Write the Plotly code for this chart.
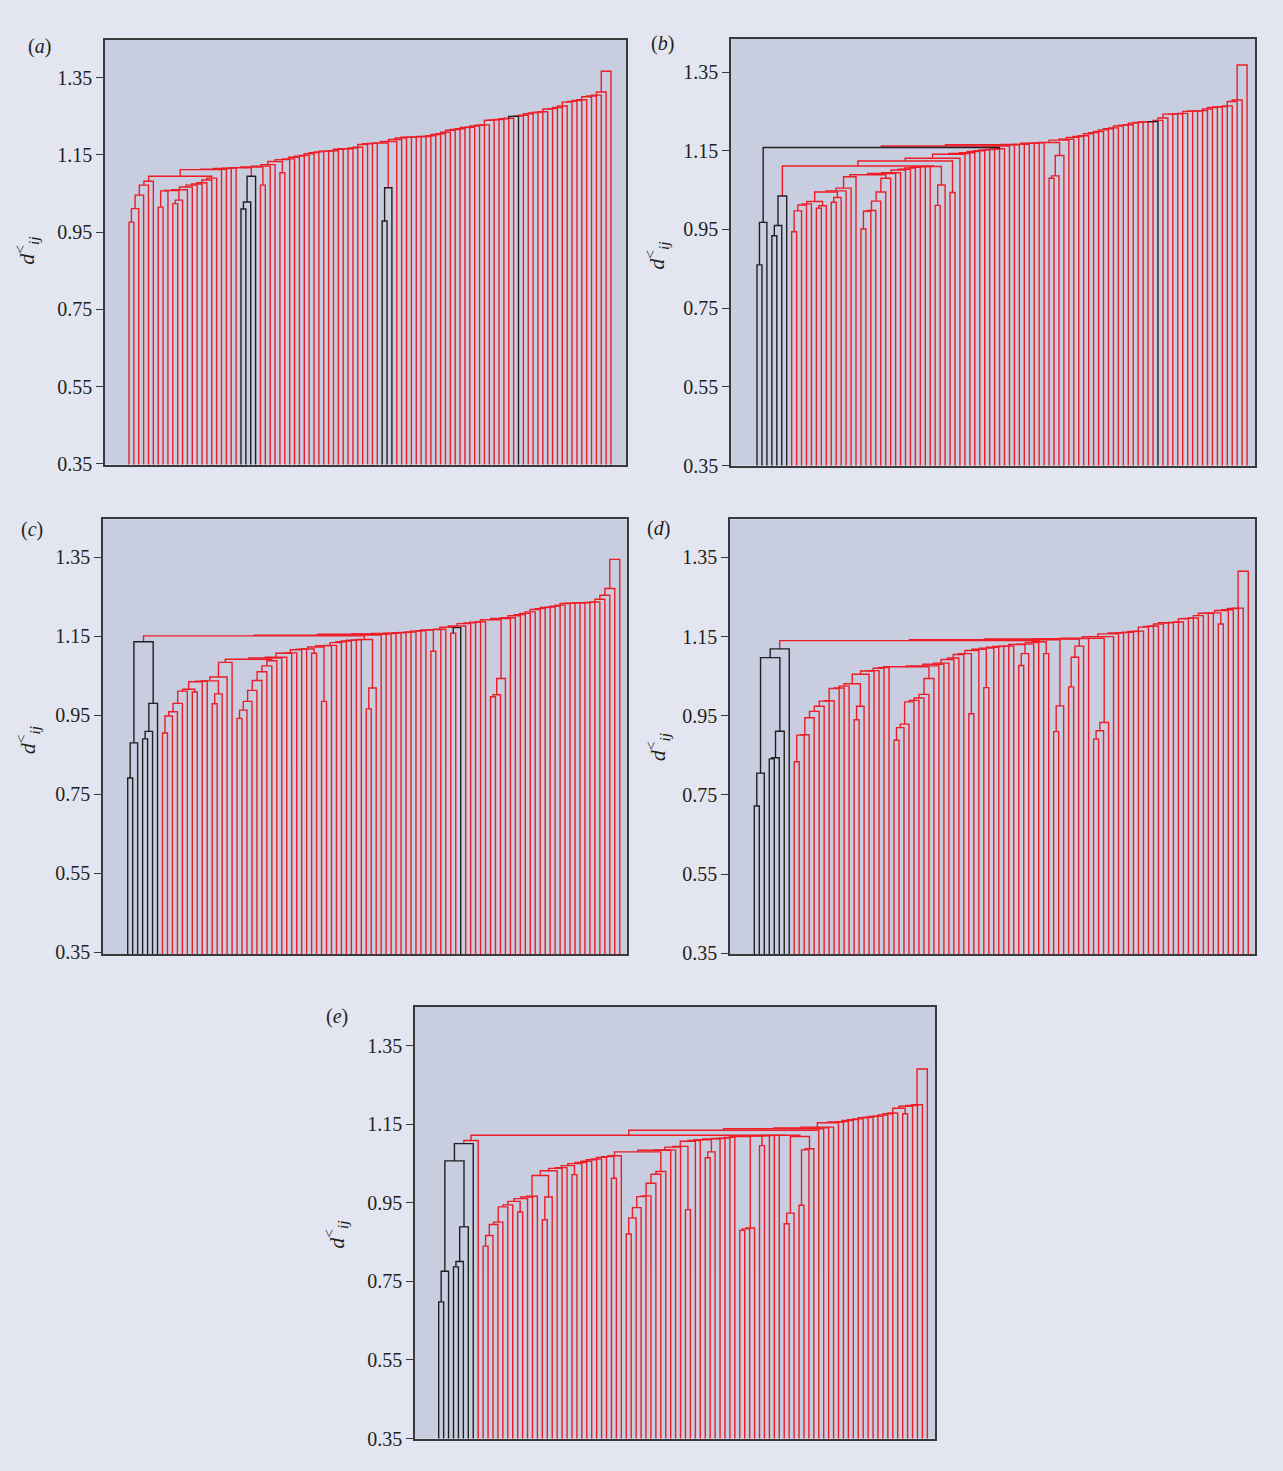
import plotly.graph_objects as go

# ---------------- data (heights) ----------------
# Each list gives, in leaf order, the merge height between leaf k-1 and leaf k (k = 1..99)
GAPS_A = [0.976, 1.011, 1.046, 1.072, 1.082, 1.095, 1.015, 1.057, 1.058, 1.024,
          1.033, 1.060, 1.067, 1.072, 1.075, 1.078, 1.085, 1.090, 1.112, 1.113,
          1.115, 1.116, 1.117, 1.010, 1.028, 1.095, 1.119, 1.072, 1.121, 1.125,
          1.133, 1.104, 1.138, 1.140, 1.144, 1.147, 1.149, 1.153, 1.156, 1.158,
          1.160, 1.160, 1.161, 1.165, 1.166, 1.166, 1.168, 1.170, 1.177, 1.179,
          1.180, 1.181, 0.979, 1.065, 1.185, 1.190, 1.194, 1.196, 1.196, 1.197,
          1.198, 1.198, 1.200, 1.203, 1.205, 1.209, 1.214, 1.216, 1.218, 1.221,
          1.222, 1.225, 1.227, 1.228, 1.240, 1.241, 1.242, 1.244, 1.245, 1.250,
          1.251, 1.253, 1.257, 1.259, 1.261, 1.262, 1.269, 1.270, 1.273, 1.277,
          1.287, 1.289, 1.291, 1.293, 1.301, 1.303, 1.305, 1.313, 1.367]
BLACK_A = [24, 25, 26, 53, 54, 80]

GAPS_B = [0.860, 0.968, 1.158, 0.934, 0.960, 1.035, 1.111, 0.944, 0.997, 1.012,
          1.015, 1.021, 1.004, 1.010, 1.045, 1.019, 1.031, 1.048, 1.055, 1.084,
          1.089, 0.951, 0.996, 0.998, 1.022, 1.045, 1.080, 1.092, 1.094, 1.101,
          1.103, 1.106, 1.108, 1.109, 1.1095, 1.110, 1.011, 1.063, 1.124, 1.044,
          1.131, 1.141, 1.143, 1.145, 1.148, 1.150, 1.152, 1.153, 1.154, 1.155,
          1.162, 1.165, 1.165, 1.166, 1.166, 1.169, 1.169, 1.170, 1.171, 1.080,
          1.086, 1.138, 1.177, 1.179, 1.184, 1.186, 1.188, 1.193, 1.196, 1.199,
          1.203, 1.206, 1.208, 1.213, 1.215, 1.216, 1.220, 1.222, 1.223, 1.2235,
          1.224, 1.227, 1.233, 1.243, 1.243, 1.244, 1.245, 1.250, 1.251, 1.251,
          1.252, 1.256, 1.260, 1.261, 1.262, 1.264, 1.275, 1.279, 1.368]
BLACK_B = [1, 2, 3, 4, 5, 6, 81]

GAPS_C = [0.791, 0.880, 1.136, 0.890, 0.909, 0.980, 1.151, 0.905, 0.948, 0.959,
          0.980, 1.011, 1.016, 1.009, 1.035, 1.036, 1.037, 0.979, 1.004, 1.047,
          1.084, 1.092, 0.942, 0.963, 0.985, 1.013, 1.038, 1.060, 1.075, 1.088,
          1.095, 1.097, 1.107, 1.108, 1.116, 1.117, 1.118, 1.107, 1.123, 0.985,
          1.126, 1.127, 1.134, 1.136, 1.138, 1.140, 1.141, 1.142, 0.966, 1.019,
          1.153, 1.155, 1.156, 1.157, 1.158, 1.159, 1.160, 1.161, 1.163, 1.164,
          1.166, 1.112, 1.167, 1.168, 1.173, 1.158, 1.172, 1.176, 1.182, 1.184,
          1.186, 1.187, 1.192, 0.997, 1.002, 1.043, 1.195, 1.197, 1.202, 1.205,
          1.208, 1.212, 1.218, 1.220, 1.223, 1.224, 1.226, 1.229, 1.233, 1.234,
          1.234, 1.235, 1.235, 1.236, 1.237, 1.244, 1.254, 1.271, 1.345]
BLACK_C = [1, 2, 3, 4, 5, 6, 67]

GAPS_D = [0.722, 0.805, 1.097, 0.841, 0.844, 0.911, 1.119, 1.140, 0.834, 0.901,
          0.902, 0.945, 0.961, 0.974, 0.987, 0.988, 1.019, 1.020, 1.025, 1.031,
          0.940, 0.974, 1.055, 1.063, 1.064, 1.070, 1.072, 1.074, 0.888, 0.920,
          0.929, 0.985, 0.989, 0.995, 1.004, 1.044, 1.076, 1.080, 1.083, 1.092,
          1.096, 1.105, 1.107, 0.955, 1.115, 1.118, 1.021, 1.121, 1.123, 1.125,
          1.1255, 1.126, 1.130, 1.077, 1.107, 1.131, 1.135, 1.137, 1.107, 1.142,
          0.910, 0.975, 1.144, 1.023, 1.098, 1.126, 1.145, 1.146, 0.891, 0.912,
          0.933, 1.150, 1.157, 1.159, 1.160, 1.161, 1.163, 1.164, 1.174, 1.176,
          1.177, 1.182, 1.185, 1.185, 1.186, 1.187, 1.195, 1.196, 1.197, 1.203,
          1.209, 1.209, 1.210, 1.182, 1.216, 1.218, 1.221, 1.222, 1.315]
BLACK_D = [1, 2, 3, 4, 5, 6, 7]

GAPS_E = [0.698, 0.776, 1.057, 0.787, 0.801, 0.889, 1.101, 1.109, 1.1225, 0.840,
          0.867, 0.895, 0.901, 0.940, 0.945, 0.954, 0.927, 0.961, 0.965, 0.967,
          1.020, 0.907, 0.965, 1.032, 1.038, 1.040, 1.045, 1.022, 1.050, 1.053,
          1.056, 1.060, 1.062, 1.066, 1.068, 1.013, 1.070, 1.080, 0.871, 0.912,
          0.938, 0.966, 0.968, 1.000, 1.023, 1.030, 1.084, 1.085, 1.092, 1.094,
          0.933, 1.107, 1.109, 1.111, 1.065, 1.080, 1.113, 1.114, 1.115, 1.117,
          1.119, 0.880, 0.884, 0.886, 1.120, 1.096, 1.121, 1.1215, 1.122, 1.1222,
          0.897, 0.924, 1.119, 0.944, 1.085, 1.088, 1.135, 1.139, 1.141, 1.143,
          1.154, 1.156, 1.157, 1.160, 1.162, 1.164, 1.167, 1.168, 1.170, 1.171,
          1.174, 1.177, 1.179, 1.191, 1.177, 1.196, 1.198, 1.200, 1.291]
BLACK_E = [1, 2, 3, 4, 5, 6, 7]

TICK_VALS = [0.35, 0.55, 0.75, 0.95, 1.15, 1.35]
TICK_TEXT = ["0.35", "0.55", "0.75", "0.95", "1.15", "1.35"]
PANEL_NAMES = ["a", "b", "c", "d", "e"]

# ---------------- styling / layout ----------------
W, H = 1283, 1471
YS = 1461.5          # effective rendered height used for vertical placement
RED = "#EE1D25"
BLACK = "#231F20"
PAGE_BG = "#E3E6F1"
PLOT_BG = "#C8CDE0"
FONT = "Liberation Serif"

panels = [
    dict(gaps=GAPS_A, black=BLACK_A, box=(105, 626, 40, 465), xr=(-4.93, 102.08), yr=(0.348, 1.448),
         lab=(39, 47), ylab=(27, 251)),
    dict(gaps=GAPS_B, black=BLACK_B, box=(731, 1255, 39, 466), xr=(-5.25, 100.6), yr=(0.35, 1.434),
         lab=(662, 44), ylab=(657, 256)),
    dict(gaps=GAPS_C, black=BLACK_C, box=(103, 627, 520, 955), xr=(-4.97, 100.46), yr=(0.345, 1.446),
         lab=(32, 530), ylab=(27, 741)),
    dict(gaps=GAPS_D, black=BLACK_D, box=(730, 1255, 520, 955), xr=(-4.87, 100.35), yr=(0.348, 1.446),
         lab=(658, 529), ylab=(657, 748)),
    dict(gaps=GAPS_E, black=BLACK_E, box=(415, 935, 1008, 1440), xr=(-4.80, 100.55), yr=(0.35, 1.449),
         lab=(337, 1018), ylab=(336, 1236)),
]


def dendrogram_segments(gaps, black):
    """Single-linkage style dendrogram from ordered adjacent merge heights."""
    n = len(gaps) + 1
    xs = [float(i) for i in range(n)]
    hs = [0.0] * n
    start_of = list(range(n))
    end_of = list(range(n))
    order = sorted(range(1, n), key=lambda k: gaps[k - 1])
    out = {"red": ([], []), "black": ([], [])}
    bset = set(black)
    for k in order:
        g = gaps[k - 1]
        a = start_of[k - 1]
        b = end_of[k]
        xl, hl = xs[a], hs[a]
        xr, hr = xs[k], hs[k]
        key = "black" if k in bset else "red"
        X, Y = out[key]
        X += [xl, xl, xr, xr, None]
        Y += [hl, g, g, hr, None]
        xs[a] = (xl + xr) / 2.0
        hs[a] = g
        end_of[a] = b
        start_of[b] = a
    return out


fig = go.Figure()
annotations = []
for idx, p in enumerate(panels):
    sfx = "" if idx == 0 else str(idx + 1)
    segs = dendrogram_segments(p["gaps"], p["black"])
    for key, col in (("red", RED), ("black", BLACK)):
        X, Y = segs[key]
        fig.add_trace(go.Scatter(x=X, y=Y, mode="lines", line=dict(color=col, width=1.4),
                                 hoverinfo="skip", showlegend=False,
                                 xaxis="x" + sfx, yaxis="y" + sfx))
    x0, x1, y0, y1 = p["box"]
    fig.layout["xaxis" + sfx] = dict(
        domain=[x0 / W, x1 / W], range=list(p["xr"]), anchor="y" + sfx,
        showticklabels=False, ticks="", showgrid=False, zeroline=False,
        showline=True, mirror=True, linecolor="#3A3A3C", linewidth=1.6)
    fig.layout["yaxis" + sfx] = dict(
        domain=[1 - y1 / YS, 1 - y0 / YS], range=list(p["yr"]), anchor="x" + sfx,
        tickvals=TICK_VALS, ticktext=TICK_TEXT, ticks="outside", ticklen=7,
        tickwidth=1.2, tickcolor="#3A3A3C",
        tickfont=dict(family=FONT, size=20, color="#231F20"),
        showgrid=False, zeroline=False,
        showline=True, mirror=True, linecolor="#3A3A3C", linewidth=1.6)
    lx, ly = p["lab"]
    annotations.append(dict(text="(<i>%s</i>)" % PANEL_NAMES[idx], x=lx / W, y=1 - ly / YS,
                            xref="paper", yref="paper", showarrow=False,
                            xanchor="center", yanchor="middle",
                            font=dict(family=FONT, size=20, color="#231F20")))
    yx, yy = p["ylab"]
    annotations.append(dict(text="<i>d</i><sup>&lt;</sup><sub><i>ij</i></sub>", x=yx / W, y=1 - yy / YS,
                            xref="paper", yref="paper", showarrow=False, textangle=-90,
                            xanchor="center", yanchor="middle",
                            font=dict(family=FONT, size=22, color="#231F20")))

fig.update_layout(width=W, height=H, margin=dict(l=0, r=0, t=0, b=0),
                  paper_bgcolor=PAGE_BG, plot_bgcolor=PLOT_BG,
                  annotations=annotations, showlegend=False)

fig.write_html("out.html")
